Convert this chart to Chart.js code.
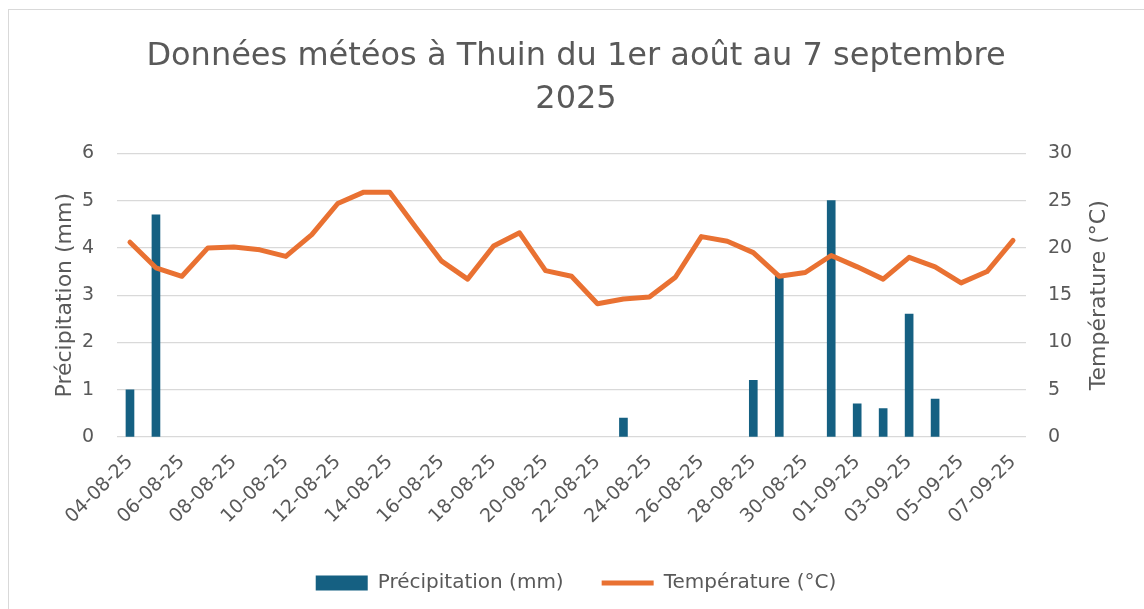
<!DOCTYPE html>
<html>
<head>
<meta charset="utf-8">
<script src="https://cdn.jsdelivr.net/npm/chart.js@4.4.1/dist/chart.umd.min.js"></script>
<style>
  html, body { margin: 0; padding: 0; background: #ffffff; }
  #frame { position: absolute; left: 8px; top: 9px; width: 1300px; height: 800px; border: 1px solid #d9d9d9; box-sizing: border-box; }
  #c { position: absolute; left: 0; top: 0; }
</style>
</head>
<body>
<div id="frame"></div>
<canvas id="c" width="1144" height="609"></canvas>
<script>
const titleLines = ['Données météos à Thuin du 1er août au 7 septembre', '2025'];
const dates = [
  '04-08-25','05-08-25','06-08-25','07-08-25','08-08-25','09-08-25','10-08-25',
  '11-08-25','12-08-25','13-08-25','14-08-25','15-08-25','16-08-25','17-08-25',
  '18-08-25','19-08-25','20-08-25','21-08-25','22-08-25','23-08-25','24-08-25',
  '25-08-25','26-08-25','27-08-25','28-08-25','29-08-25','30-08-25','31-08-25',
  '01-09-25','02-09-25','03-09-25','04-09-25','05-09-25','06-09-25','07-09-25'
];
const precipitation = [
  1.0, 4.7, 0, 0, 0, 0, 0,
  0, 0, 0, 0, 0, 0, 0,
  0, 0, 0, 0, 0, 0.4, 0,
  0, 0, 0, 1.2, 3.4, 0, 5.0,
  0.7, 0.6, 2.6, 0.8, 0, 0, 0
];
const temperature = [
  20.6, 17.9, 17.0, 20.0, 20.1, 19.8, 19.1,
  21.4, 24.7, 25.9, 25.9, 22.2, 18.6, 16.7,
  20.2, 21.6, 17.6, 17.0, 14.1, 14.6, 14.8,
  16.9, 21.2, 20.7, 19.5, 17.0, 17.4, 19.2,
  18.0, 16.7, 19.0, 18.0, 16.3, 17.5, 20.8
];
const precipLabel = 'Précipitation (mm)';
const tempLabel = 'Température (°C)';

const FONT = 'DejaVu Sans';
const TXT = '#595959';
const GRID = '#d9d9d9';
const BAR = '#156082';

// Right axis title reads bottom-to-top like the left one
const rightTitlePlugin = {
  id: 'rightTitle',
  afterDraw(chart) {
    const s = chart.scales.y1;
    const ctx = chart.ctx;
    ctx.save();
    ctx.translate(s.right - 45, (chart.chartArea.top + chart.chartArea.bottom) / 2);
    ctx.rotate(-Math.PI / 2);
    ctx.textAlign = 'center';
    ctx.textBaseline = 'middle';
    ctx.fillStyle = TXT;
    ctx.font = '22px "' + FONT + '"';
    ctx.fillText(tempLabel, 0, 0);
    ctx.restore();
  }
};

new Chart(document.getElementById('c'), {
  data: {
    labels: dates,
    datasets: [
      {
        type: 'bar',
        label: precipLabel,
        data: precipitation,
        backgroundColor: (c) => (c.raw ? BAR : 'rgba(0,0,0,0)'),
        borderWidth: 0,
        barThickness: 8,
        yAxisID: 'y',
        order: 1,
        pointStyle: 'rect'
      },
      {
        type: 'line',
        label: tempLabel,
        data: temperature,
        borderColor: '#E97132',
        backgroundColor: '#E97132',
        borderWidth: 5,
        pointRadius: 0,
        tension: 0,
        borderJoinStyle: 'round',
        borderCapStyle: 'round',
        yAxisID: 'y1',
        order: 0,
        pointStyle: 'line'
      }
    ]
  },
  plugins: [rightTitlePlugin],
  options: {
    responsive: false,
    animation: false,
    devicePixelRatio: 1,
    layout: { padding: { left: 8, right: 0, top: 0, bottom: 6 } },
    plugins: {
      tooltip: { enabled: false },
      title: {
        display: true,
        text: titleLines,
        color: TXT,
        font: { family: FONT, size: 32, weight: 'normal', lineHeight: 1.35 },
        padding: { top: 35, bottom: 32 }
      },
      legend: {
        position: 'bottom',
        labels: {
          color: TXT,
          font: { family: FONT, size: 20 },
          usePointStyle: true,
          pointStyleWidth: 52,
          boxHeight: 15,
          padding: 38,
          sort: (a, b) => a.datasetIndex - b.datasetIndex,
          generateLabels: function (chart) {
            const items = Chart.defaults.plugins.legend.labels.generateLabels(chart);
            items.forEach((it) => { if (it.datasetIndex === 0) { it.fillStyle = BAR; it.strokeStyle = BAR; } });
            return items;
          }
        }
      }
    },
    scales: {
      x: {
        type: 'category',
        offset: true,
        grid: { display: false },
        border: { display: false },
        ticks: {
          color: TXT,
          font: { family: FONT, size: 19 },
          autoSkip: false,
          maxRotation: 45,
          minRotation: 45,
          padding: 6,
          callback: function (v, i) { return i % 2 === 0 ? dates[i] : ''; }
        },
        afterFit: function (s) { s.height = 98; }
      },
      y: {
        position: 'left',
        min: 0,
        max: 6,
        ticks: { stepSize: 1, color: TXT, font: { family: FONT, size: 19 }, padding: 23 },
        grid: { color: GRID, lineWidth: 1.3, drawTicks: false },
        border: { display: false },
        title: {
          display: true,
          text: precipLabel,
          color: TXT,
          font: { family: FONT, size: 22 },
          padding: { top: 44, bottom: 0 }
        },
        afterFit: function (s) { s.width = 109; }
      },
      y1: {
        position: 'right',
        min: 0,
        max: 30,
        ticks: { stepSize: 5, color: TXT, font: { family: FONT, size: 19 }, padding: 22 },
        grid: { display: false, drawTicks: false },
        border: { display: false },
        title: { display: false },
        afterFit: function (s) { s.width = 118; }
      }
    }
  }
});
</script>
</body>
</html>
